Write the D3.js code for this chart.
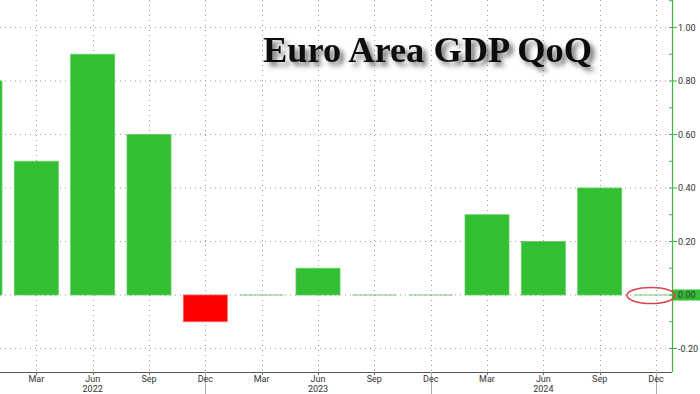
<!DOCTYPE html>
<html><head><meta charset="utf-8">
<script src="https://cdn.jsdelivr.net/npm/d3@7"></script>
<style>html,body{margin:0;padding:0;background:#fff;overflow:hidden}</style>
</head><body>
<svg id="c" width="700" height="394"></svg>
<script>
const quarters = ["Dec 2021","Mar 2022","Jun 2022","Sep 2022","Dec 2022","Mar 2023","Jun 2023","Sep 2023","Dec 2023","Mar 2024","Jun 2024","Sep 2024","Dec 2024"];
const values = [0.8, 0.5, 0.9, 0.6, -0.1, 0.0, 0.1, 0.0, 0.0, 0.3, 0.2, 0.4, 0.0];
const monthLabels = ["Dec","Mar","Jun","Sep","Dec","Mar","Jun","Sep","Dec","Mar","Jun","Sep","Dec"];
const yearLabels = [{i:2, label:"2022"},{i:6, label:"2023"},{i:10, label:"2024"}];
const yTicks = [-0.2, 0, 0.2, 0.4, 0.6, 0.8, 1.0];
const title = "Euro Area GDP QoQ";

const svg = d3.select("#c");
const plotRight = 672, plotBottom = 372;
const x = d3.scaleLinear().domain([0.355, 12.284]).range([0, plotRight]);
const y = d3.scaleLinear().domain([-0.2879, 1.1028]).range([plotBottom, 0]);
const barW = 44;
const fontF = "Roboto, 'DejaVu Sans', sans-serif";

const defs = svg.append("defs");
const f = defs.append("filter").attr("id","sh").attr("x","-10%").attr("y","-30%").attr("width","130%").attr("height","180%");
f.append("feDropShadow").attr("dx",4).attr("dy",4).attr("stdDeviation",2.5).attr("flood-color","#000").attr("flood-opacity",0.55);

// grid
const g = svg.append("g");
g.selectAll(".hg").data(yTicks).join("line")
  .attr("x1",0).attr("x2",plotRight).attr("y1",d=>y(d)).attr("y2",d=>y(d))
  .attr("stroke","#9a9a9a").attr("stroke-width",1).attr("stroke-dasharray","1,4");
const idx = d3.range(1, quarters.length);
g.selectAll(".vg").data(idx).join("line")
  .attr("x1",d=>Math.round(x(d))+0.5).attr("x2",d=>Math.round(x(d))+0.5).attr("y1",0).attr("y2",plotBottom)
  .attr("stroke","#9a9a9a").attr("stroke-width",1).attr("stroke-dasharray","1,4");

// bars
svg.append("g").selectAll("rect").data(values).join("rect")
  .attr("x",(d,i)=>x(i)-barW/2)
  .attr("width",barW)
  .attr("y",d=> d===0 ? y(0)-0.5 : y(Math.max(0,d)))
  .attr("height",d=> d===0 ? 1 : Math.abs(y(d)-y(0)))
  .attr("fill",d=> d<0 ? "#ff0000" : (d===0 ? "#7cc47c" : "#33bf33"))
  .attr("stroke",d=> d===0 ? "none" : (d<0 ? "#ff6060" : "#5fd05f"))
  .attr("stroke-width",0.8);

// bottom axis
svg.append("line").attr("x1",0).attr("x2",plotRight).attr("y1",plotBottom+0.5).attr("y2",plotBottom+0.5)
  .attr("stroke","#555").attr("stroke-width",1.2);
svg.append("g").selectAll("line").data(idx).join("line")
  .attr("x1",d=>Math.round(x(d))+0.5).attr("x2",d=>Math.round(x(d))+0.5)
  .attr("y1",plotBottom).attr("y2",d=> monthLabels[d]==="Dec" ? 394 : plotBottom+3)
  .attr("stroke",d=> monthLabels[d]==="Dec" ? "#aaa" : "#666").attr("stroke-width",1);
svg.append("g").selectAll("text").data(idx).join("text")
  .attr("x",d=>x(d)).attr("y",382).attr("text-anchor","middle")
  .attr("font-family",fontF).attr("font-size",9).attr("fill","#333")
  .text(d=>monthLabels[d]);
svg.append("g").selectAll("text").data(yearLabels).join("text")
  .attr("x",d=>x(d.i)).attr("y",392).attr("text-anchor","middle")
  .attr("font-family",fontF).attr("font-size",9).attr("fill","#333")
  .text(d=>d.label);

// right axis
svg.append("line").attr("x1",plotRight+0.5).attr("x2",plotRight+0.5).attr("y1",0).attr("y2",plotBottom)
  .attr("stroke","#3cb83c").attr("stroke-width",1.2);
const minor = d3.range(-0.2, 1.11, 0.1).map(v=>Math.round(v*10)/10);
svg.append("g").selectAll("line").data(minor).join("line")
  .attr("x1",plotRight-3).attr("x2",plotRight).attr("y1",d=>y(d)).attr("y2",d=>y(d))
  .attr("stroke","#3cb83c").attr("stroke-width",1);
// last value box
svg.append("rect").attr("x",plotRight+1).attr("y",y(0)-5.5).attr("width",700-plotRight).attr("height",11).attr("fill","#33bf33");
svg.append("g").selectAll("line").data(yTicks).join("line")
  .attr("x1",plotRight).attr("x2",plotRight+5).attr("y1",d=>y(d)).attr("y2",d=>y(d))
  .attr("stroke","#3cb83c").attr("stroke-width",1);
svg.append("g").selectAll("text").data(yTicks).join("text")
  .attr("x",plotRight+6).attr("y",d=>y(d)+3.3)
  .attr("font-family",fontF).attr("font-size",9).attr("fill","#333")
  .text(d=>d3.format(".2f")(d).replace("−","-"));

// red ellipse
svg.append("ellipse").attr("cx",x(12)-5).attr("cy",y(0)+0.5).attr("rx",24).attr("ry",8)
  .attr("fill","none").attr("stroke","#d9454a").attr("stroke-width",1.6);

// title
svg.append("text").attr("x",263).attr("y",62)
  .attr("font-family","'Liberation Serif','Times New Roman',serif").attr("font-weight","bold")
  .attr("font-size",35).attr("fill","#111").attr("filter","url(#sh)")
  .attr("textLength",329).attr("lengthAdjust","spacingAndGlyphs")
  .text(title);
</script>
</body></html>
